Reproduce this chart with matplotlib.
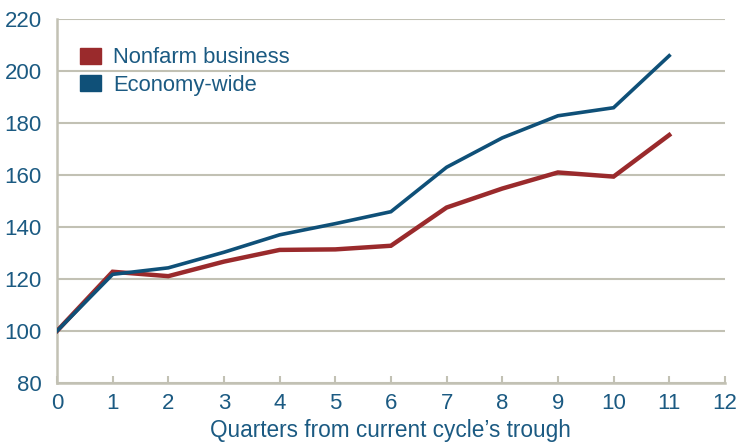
import matplotlib.pyplot as plt
from matplotlib.patches import Patch

quarters = [0, 1, 2, 3, 4, 5, 6, 7, 8, 9, 10, 11]
nonfarm = [100, 122.8, 121.1, 126.7, 131.2, 131.4, 132.8, 147.5, 154.8, 161.0, 159.4, 175.4]
economy = [100, 121.8, 124.3, 130.3, 137.0, 141.3, 145.9, 163.0, 174.3, 182.8, 185.9, 205.9]

red = '#9a2a2c'
blue = '#0f5078'
text_col = '#1b5a82'
grid_col = '#c2c1b4'

plt.rcParams['font.family'] = ['Liberation Sans', 'DejaVu Sans']

fig = plt.figure(figsize=(7.38, 4.44), dpi=100)
ax = fig.add_axes([0.0772, 0.1374, 0.905, 0.8196])

ax.plot(quarters, nonfarm, color=red, lw=3.2, solid_joinstyle='miter', zorder=3)
ax.plot(quarters, economy, color=blue, lw=2.6, solid_joinstyle='miter', zorder=4)

ax.set_xlim(0, 12)
ax.set_ylim(80, 220)
ax.set_xticks(range(0, 13))
ax.set_yticks(range(80, 221, 20))
ax.yaxis.grid(True, color=grid_col, lw=1.5)
ax.set_axisbelow(True)

for s in ['top', 'right']:
    ax.spines[s].set_visible(False)
for s in ['left', 'bottom']:
    ax.spines[s].set_color(grid_col)
    ax.spines[s].set_linewidth(1.8)

ax.tick_params(axis='x', direction='in', length=5, width=1.5, color=grid_col,
               labelsize=16, labelcolor=text_col, pad=7)
ax.tick_params(axis='y', length=0, labelsize=16, labelcolor=text_col, pad=11)

ax.set_xlabel('Quarters from current cycle\u2019s trough', fontsize=16.3, color=text_col, labelpad=4)

handles = [Patch(color=red, label='Nonfarm business'),
           Patch(color=blue, label='Economy-wide')]
leg = ax.legend(handles=handles, loc='upper left', bbox_to_anchor=(0.005, 0.977),
                frameon=False, fontsize=15.8, handlelength=0.95, handleheight=0.75,
                handletextpad=0.55, labelspacing=0.3)
for t in leg.get_texts():
    t.set_color(text_col)

fig.savefig('out.png', dpi=100)
